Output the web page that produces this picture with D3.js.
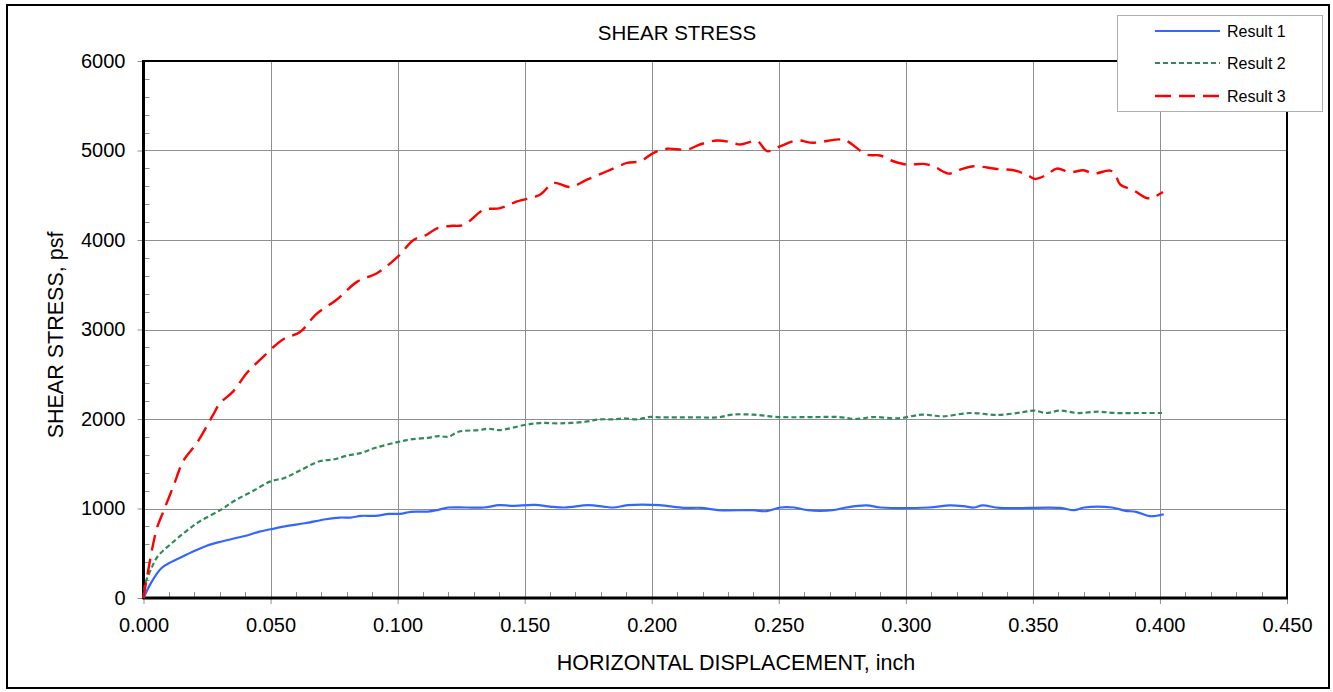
<!DOCTYPE html>
<html>
<head>
<meta charset="utf-8">
<script src="https://cdn.jsdelivr.net/npm/d3@7"></script>
<style>
  html, body { margin: 0; padding: 0; background: #fff; }
  svg { display: block; font-family: "Liberation Sans", Arial, sans-serif; }
</style>
</head>
<body>
<svg id="chart" width="1333" height="692"></svg>
<script>
// ---------- DATA ----------
const seriesNames = ["Result 1", "Result 2", "Result 3"];

const r1X = [0, 0.0028, 0.0069, 0.011, 0.0152, 0.0193, 0.0249, 0.0304, 0.036, 0.0414, 0.0456, 0.050, 0.0566, 0.0635, 0.0718, 0.0773, 0.0815, 0.0856, 0.0912, 0.0967, 0.101, 0.1052, 0.112, 0.116, 0.120, 0.127, 0.134, 0.140, 0.145, 0.154, 0.160, 0.1657, 0.175, 0.181, 0.185, 0.1906, 0.203, 0.2126, 0.2194, 0.2262, 0.2398, 0.2452, 0.2507, 0.2561, 0.2615, 0.2711, 0.2765, 0.2846, 0.2901, 0.309, 0.3172, 0.3227, 0.3268, 0.3302, 0.337, 0.3607, 0.3662, 0.3702, 0.3811, 0.3865, 0.3906, 0.3961, 0.4015];
const r1Y = [0, 161, 330, 404, 461, 517, 584, 629, 667, 704, 742, 768, 805, 835, 880, 899, 899, 918, 918, 940, 940, 963, 966, 985, 1011, 1011, 1011, 1037, 1030, 1041, 1022, 1011, 1037, 1022, 1011, 1037, 1037, 1007, 1007, 981, 981, 970, 1011, 1011, 981, 981, 1011, 1034, 1011, 1011, 1034, 1026, 1011, 1034, 1007, 1007, 981, 1011, 1011, 974, 963, 914, 936];

const r2X = [0, 0.0007, 0.0028, 0.0055, 0.011, 0.0166, 0.022, 0.0304, 0.036, 0.0428, 0.050, 0.0555, 0.061, 0.0693, 0.0748, 0.0803, 0.0858, 0.0913, 0.100, 0.105, 0.1119, 0.116, 0.120, 0.124, 0.132, 0.136, 0.140, 0.150, 0.156, 0.164, 0.174, 0.1795, 0.185, 0.189, 0.1945, 0.1987, 0.2031, 0.2167, 0.2262, 0.2317, 0.2398, 0.250, 0.2643, 0.2738, 0.2799, 0.2874, 0.2969, 0.3064, 0.3145, 0.3254, 0.3363, 0.3458, 0.3505, 0.3553, 0.3607, 0.3675, 0.3757, 0.3825, 0.3933, 0.4008];
const r2Y = [0, 161, 311, 461, 610, 742, 854, 985, 1090, 1191, 1303, 1341, 1416, 1528, 1547, 1592, 1622, 1678, 1742, 1772, 1790, 1809, 1801, 1858, 1876, 1891, 1876, 1933, 1955, 1951, 1970, 1996, 1996, 2007, 1996, 2022, 2019, 2019, 2019, 2049, 2049, 2022, 2022, 2022, 2000, 2022, 2007, 2049, 2030, 2067, 2045, 2075, 2094, 2067, 2094, 2067, 2082, 2067, 2067, 2067];

const r3X = [0, 0.001, 0.0052, 0.0079, 0.0118, 0.0157, 0.021, 0.0275, 0.030, 0.0354, 0.0406, 0.047, 0.055, 0.0616, 0.068, 0.076, 0.084, 0.092, 0.100, 0.1063, 0.1113, 0.1155, 0.1207, 0.126, 0.1339, 0.1404, 0.147, 0.156, 0.1614, 0.168, 0.1745, 0.1824, 0.1903, 0.1955, 0.2008, 0.206, 0.214, 0.219, 0.2257, 0.231, 0.2349, 0.2415, 0.2454, 0.2507, 0.2571, 0.2636, 0.2735, 0.2768, 0.2846, 0.2899, 0.2951, 0.3004, 0.307, 0.3109, 0.3168, 0.3214, 0.3266, 0.3358, 0.3424, 0.3476, 0.3509, 0.3555, 0.3594, 0.3647, 0.3699, 0.3739, 0.3804, 0.3824, 0.3844, 0.3897, 0.3949, 0.3975, 0.4012];
const r3Y = [0, 172, 772, 972, 1252, 1532, 1732, 2052, 2172, 2312, 2512, 2692, 2892, 2972, 3172, 3332, 3532, 3632, 3812, 4000, 4056, 4131, 4157, 4169, 4337, 4356, 4431, 4506, 4637, 4592, 4674, 4768, 4861, 4880, 4974, 5019, 5011, 5067, 5112, 5094, 5067, 5105, 4993, 5049, 5112, 5086, 5124, 5105, 4955, 4944, 4880, 4843, 4850, 4824, 4742, 4787, 4824, 4794, 4779, 4730, 4682, 4730, 4798, 4757, 4779, 4742, 4775, 4730, 4618, 4554, 4468, 4479, 4536];

const xTicks = [0, 0.05, 0.10, 0.15, 0.20, 0.25, 0.30, 0.35, 0.40, 0.45];
const yTicks = [0, 1000, 2000, 3000, 4000, 5000, 6000];

const titleText = "SHEAR STRESS";
const xLabelText = "HORIZONTAL DISPLACEMENT, inch";
const yLabelText = "SHEAR STRESS, psf";

// ---------- LAYOUT ----------
const svg = d3.select("#chart");
const L = 143.5, R = 1287, T = 61, B = 598;
const x = d3.scaleLinear().domain([0, 0.45]).range([L, R]);
const y = d3.scaleLinear().domain([0, 6000]).range([B, T]);

const styles = [
  { color: "#3366ff", width: 2.2, dash: null },
  { color: "#2e8b57", width: 2.2, dash: "5,3" },
  { color: "#ff0000", width: 2.4, dash: "16,8" }
];

// outer border
svg.append("rect").attr("x", 7).attr("y", 5).attr("width", 1322).attr("height", 683)
  .attr("fill", "#fff").attr("stroke", "#000").attr("stroke-width", 2);

// gridlines
const grid = svg.append("g").attr("stroke", "#8f8f8f").attr("stroke-width", 1);
xTicks.forEach(t => {
  grid.append("line").attr("x1", Math.round(x(t)) + 0.5).attr("x2", Math.round(x(t)) + 0.5)
    .attr("y1", T).attr("y2", B);
});
yTicks.forEach(t => {
  grid.append("line").attr("x1", L).attr("x2", R)
    .attr("y1", Math.round(y(t)) + 0.5).attr("y2", Math.round(y(t)) + 0.5);
});

// axes with D3 (major ticks outside)
const xAxis = d3.axisBottom(x).tickValues(xTicks).tickFormat(d3.format(".3f")).tickSize(6).tickSizeOuter(0);
const gx = svg.append("g").attr("transform", `translate(0,${B})`).call(xAxis);
gx.select(".domain").remove();
gx.selectAll(".tick line").attr("stroke", "#8f8f8f");
gx.selectAll(".tick text").attr("fill", "#000").attr("font-size", 20).attr("dy", null).attr("y", 34)
  .attr("font-family", "Liberation Sans, Arial, sans-serif");

const yAxis = d3.axisLeft(y).tickValues(yTicks).tickFormat(d3.format("d")).tickSize(6).tickSizeOuter(0);
const gy = svg.append("g").attr("transform", `translate(${L},0)`).call(yAxis);
gy.select(".domain").remove();
gy.selectAll(".tick line").attr("stroke", "#8f8f8f");
gy.selectAll(".tick text").attr("fill", "#000").attr("font-size", 20).attr("x", -18)
  .attr("font-family", "Liberation Sans, Arial, sans-serif");

// minor ticks (inside)
const minor = svg.append("g").attr("stroke", "#8f8f8f").attr("stroke-width", 1);
d3.range(1, 45).filter(i => i % 5 !== 0).forEach(i => {
  const xv = Math.round(x(i / 100)) + 0.5;
  minor.append("line").attr("x1", xv).attr("x2", xv).attr("y1", B - 6).attr("y2", B);
});
d3.range(1, 30).filter(i => i % 5 !== 0).forEach(i => {
  const yv = Math.round(y(i * 200)) + 0.5;
  minor.append("line").attr("x1", L).attr("x2", L + 6).attr("y1", yv).attr("y2", yv);
});

// plot frame
svg.append("rect").attr("x", L).attr("y", T).attr("width", R - L).attr("height", B - T)
  .attr("fill", "none").attr("stroke", "#000").attr("stroke-width", 2);
svg.append("line").attr("x1", L).attr("x2", L).attr("y1", T - 1).attr("y2", B + 1)
  .attr("stroke", "#000").attr("stroke-width", 3);
svg.append("line").attr("x1", L - 1).attr("x2", R + 1).attr("y1", B).attr("y2", B)
  .attr("stroke", "#000").attr("stroke-width", 3);

// series
const seriesData = [
  d3.zip(r1X, r1Y),
  d3.zip(r2X, r2Y),
  d3.zip(r3X, r3Y)
];
const line = d3.line().x(d => x(d[0])).y(d => y(d[1])).curve(d3.curveCatmullRom.alpha(0.5));
seriesData.forEach((data, i) => {
  const p = svg.append("path").datum(data).attr("d", line)
    .attr("fill", "none").attr("stroke", styles[i].color).attr("stroke-width", styles[i].width)
    .attr("stroke-linejoin", "round");
  if (styles[i].dash) p.attr("stroke-dasharray", styles[i].dash);
});

// title & axis labels
svg.append("text").attr("x", 677).attr("y", 40).attr("text-anchor", "middle")
  .attr("font-size", 20.5).attr("fill", "#000").text(titleText);
svg.append("text").attr("x", 736).attr("y", 670).attr("text-anchor", "middle")
  .attr("font-size", 21.5).attr("fill", "#000").text(xLabelText);
svg.append("text").attr("transform", "translate(63,335) rotate(-90)").attr("text-anchor", "middle")
  .attr("font-size", 21.5).attr("fill", "#000").text(yLabelText);

// legend
const lg = svg.append("g");
lg.append("rect").attr("x", 1117.5).attr("y", 15.5).attr("width", 205).attr("height", 96)
  .attr("fill", "#fff").attr("stroke", "#b0b0b0").attr("stroke-width", 1);
const legendY = [31, 63, 96];
seriesNames.forEach((name, i) => {
  const l = lg.append("line").attr("x1", 1155).attr("x2", 1220).attr("y1", legendY[i]).attr("y2", legendY[i])
    .attr("stroke", styles[i].color).attr("stroke-width", styles[i].width);
  if (styles[i].dash) l.attr("stroke-dasharray", styles[i].dash);
  lg.append("text").attr("x", 1227).attr("y", legendY[i]).attr("dy", "0.35em")
    .attr("font-size", 16).attr("fill", "#000").text(name);
});
</script>
</body>
</html>
